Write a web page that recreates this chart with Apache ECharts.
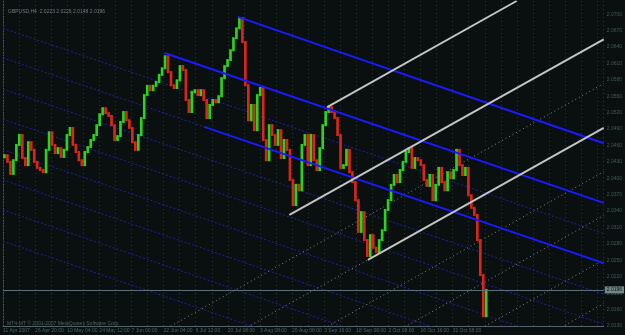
<!DOCTYPE html>
<html>
<head>
<meta charset="utf-8">
<script src="https://cdn.jsdelivr.net/npm/echarts@6/dist/echarts.min.js"></script>
<style>
  html, body { margin: 0; padding: 0; background: #0a0f0f; }
  #chart { width: 625px; height: 335px; }
</style>
</head>
<body>
<div id="chart"></div>
<script>
// prices in pips (2.0442 -> 20442), one H4 slot per value
const closes = [
  20442, 20430, 20408, 20433, 20461, 20479, 20437, 20424, 20466, 20452,
  20430, 20419, 20415, 20411, 20452, 20484, 20461, 20446, 20455, 20439,
  20452, 20479, 20492, 20461, 20448, 20433, 20424, 20448, 20457, 20470,
  20479, 20497, 20517, 20528, 20519, 20514, 20497, 20470, 20477, 20503,
  20521, 20506, 20492, 20466, 20452, 20479, 20510, 20552, 20569, 20561,
  20569, 20576, 20589, 20601, 20623, 20594, 20570, 20565, 20579, 20605,
  20598, 20543, 20521, 20558, 20561, 20552, 20561, 20543, 20510, 20534,
  20543, 20539, 20550, 20583, 20605, 20616, 20634, 20656, 20674, 20693,
  20649, 20570, 20506, 20534, 20488, 20552, 20565, 20470, 20433, 20497,
  20479, 20461, 20488, 20437, 20470, 20452, 20397, 20351, 20388, 20378,
  20461, 20479, 20424, 20479, 20433, 20415, 20455, 20497, 20521, 20530,
  20521, 20510, 20479, 20419, 20424, 20452, 20411, 20393, 20360, 20302,
  20338, 20287, 20258, 20296, 20273, 20265, 20287, 20305, 20342, 20360,
  20388, 20406, 20393, 20415, 20430, 20448, 20455, 20419, 20437, 20433,
  20424, 20397, 20386, 20406, 20360, 20388, 20419, 20393, 20378, 20411,
  20400, 20415, 20452, 20424, 20406, 20419, 20369, 20346, 20333, 20287,
  20223, 20148, 20196
];

const dateLabels = [
  '11 Apr 2007', '26 Apr 20:00', '10 May 04:00', '24 May 12:00', '7 Jun 00:00',
  '22 Jun 04:00', '6 Jul 12:00', '20 Jul 08:00', '3 Aug 08:00', '20 Aug 08:00',
  '3 Sep 16:00', '18 Sep 08:00', '2 Oct 08:00', '16 Oct 16:00', '31 Oct 08:00'
];

// pitchfork lines: [slotStart, priceStart, slotEnd, priceEnd]
const blueFork = [
  [79, 20695, 202, 20464],
  [54.3, 20629, 202, 20355],
  [67.7, 20494, 202, 20245]
];
const grayFork = [
  [109, 20530, 172.7, 20724],
  [96.3, 20333, 202, 20654],
  [122.7, 20251, 202, 20492]
];
// guide lines across the whole chart: [priceAtFirstSlot, priceAtLastSlot]
const blueGuides = [
  [20674, 20299], [20620, 20244], [20563, 20188], [20508, 20133],
  [20452, 20076], [20397, 20021], [20342, 19966], [20285, 19910]
];
const grayGuides = [
  [19958, 20573], [19878, 20492], [19797, 20412],
  [19717, 20332], [19637, 20251], [19556, 20171]
];

const lastSlot = 202;
const lastPrice = closes[closes.length - 1];
const fmt = (v) => (v / 10000).toFixed(4);
const font = 'Liberation Sans';

const candleData = closes.map((c, i) => [i, i ? closes[i - 1] : c, c]);

const seg = (pts, color, width, dash, z) => ({
  type: 'line',
  data: pts,
  symbol: 'none',
  silent: true,
  z: z || 2,
  lineStyle: { color: color, width: width, type: dash || 'solid' }
});

const series = [];
blueGuides.forEach((g) => series.push(seg([[0, g[0]], [lastSlot, g[1]]], '#2222a0', 1, [2, 2])));
grayGuides.forEach((g) => series.push(seg([[0, g[0]], [lastSlot, g[1]]], '#8a8a8a', 1, [1, 3])));

series.push({
  type: 'custom',
  z: 3,
  data: candleData,
  encode: { x: 0, y: [1, 2] },
  renderItem: (params, api) => {
    const i = api.value(0), o = api.value(1), c = api.value(2);
    const a = api.coord([i + 0.5, o]);
    const b = api.coord([i + 0.5, c]);
    const w = api.size([1, 0])[0] * 0.9;
    const top = Math.min(a[1], b[1]);
    const h = Math.max(Math.abs(b[1] - a[1]), 2);
    return {
      type: 'rect',
      shape: { x: a[0] - w / 2, y: top - 1, width: w, height: h + 2 },
      style: { fill: c >= o ? '#2bd41c' : '#d8261a' }
    };
  },
  markLine: {
    silent: true,
    symbol: 'none',
    data: [{ yAxis: lastPrice }],
    lineStyle: { color: '#5c6e76', width: 1, type: 'solid' },
    label: {
      position: 'end',
      formatter: () => fmt(lastPrice),
      color: '#0a1010',
      backgroundColor: '#6f8888',
      fontSize: 5,
      fontFamily: font,
      padding: [1, 2],
      distance: 1
    }
  }
});

blueFork.forEach((l) => series.push(seg([[l[0], l[1]], [l[2], l[3]]], '#1a1aff', 2, null, 4)));
grayFork.forEach((l) => series.push(seg([[l[0], l[1]], [l[2], l[3]]], '#c4c4c4', 2, null, 4)));

const chart = echarts.init(document.getElementById('chart'));
chart.setOption({
  animation: false,
  backgroundColor: '#0a0f0f',
  title: [
    {
      text: 'GBPUSD,H4  2.0223 2.0226 2.0148 2.0196',
      left: 3, top: 4,
      textStyle: { color: '#6e7e80', fontSize: 5, fontWeight: 'normal', fontFamily: font }
    },
    {
      text: 'MT4-MT © 2001-2007 MetaQuotes Software Corp.',
      left: 2, top: 316,
      textStyle: { color: '#4c6464', fontSize: 5, fontWeight: 'normal', fontFamily: font }
    }
  ],
  grid: { left: 0, right: 19, top: 1, bottom: 9 },
  xAxis: {
    type: 'value',
    min: 0,
    max: lastSlot,
    interval: 5.4,
    axisLine: { lineStyle: { color: '#56646a', width: 1 } },
    axisTick: { show: false },
    splitLine: { show: true, lineStyle: { color: '#2c3838', type: [1, 3] } },
    axisLabel: {
      color: '#4a6666',
      fontSize: 5,
      fontFamily: font,
      margin: 2,
      align: 'left',
      showMaxLabel: false,
      formatter: (v) => {
        const n = Math.round(v / 5.4);
        return n % 2 === 0 ? (dateLabels[n / 2] || '') : '';
      }
    }
  },
  yAxis: {
    type: 'value',
    position: 'right',
    min: 20130,
    max: 20724,
    interval: 30,
    axisLine: { show: true, lineStyle: { color: '#4a5a5e', type: [1, 2] } },
    axisTick: { show: false },
    splitLine: { show: false },
    axisLabel: {
      color: '#3e5c5c',
      fontSize: 5,
      fontFamily: font,
      margin: 3,
      showMaxLabel: false,
      formatter: fmt
    }
  },
  series: series
});
</script>
</body>
</html>
